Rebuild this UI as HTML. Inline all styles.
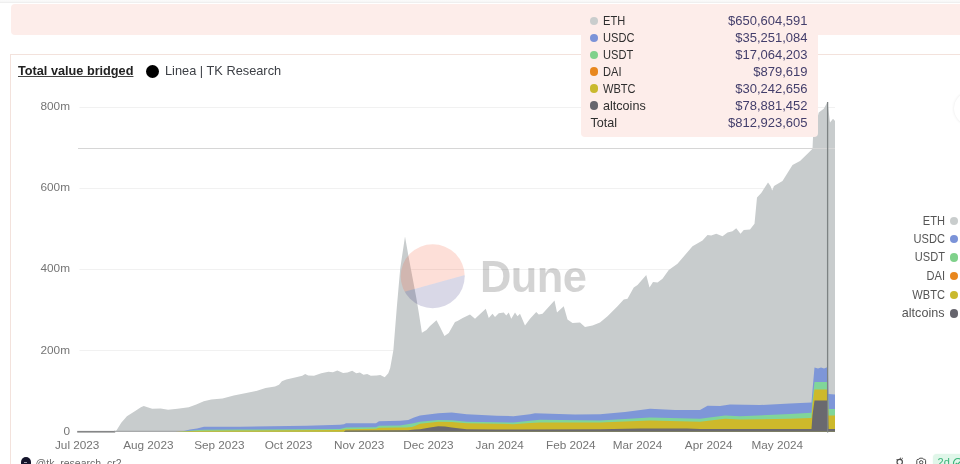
<!DOCTYPE html>
<html><head><meta charset="utf-8"><title>Total value bridged</title>
<style>
html,body{margin:0;padding:0;background:#fff;}
body{width:960px;height:464px;overflow:hidden;position:relative;font-family:"Liberation Sans",sans-serif;}
div{position:absolute;white-space:nowrap;}
.topline{left:0;top:0;width:960px;height:3.2px;background:linear-gradient(#fbfbfb,#f6f6f6 60%,#eaeaea);}
.banner{left:10.9px;top:3.6px;width:960px;height:31.6px;background:#fdedea;border-radius:4px 0 0 4px;}
.card{left:10px;top:54px;width:970px;height:430px;border:1px solid #f3e2dc;border-radius:0;box-sizing:border-box;}
.title{left:17.5px;top:63.2px;font-size:13.4px;font-weight:bold;color:#222;text-decoration:underline;text-decoration-thickness:1.3px;text-underline-offset:1px;text-decoration-color:#444;line-height:16px;transform:scaleX(.948);transform-origin:0 50%;}
.tdot{left:145.9px;top:64.7px;width:13.1px;height:13.1px;border-radius:50%;background:#000;}
.sub{left:164.8px;top:63.2px;font-size:13.3px;color:#3d4046;line-height:16px;transform:scaleX(.962);transform-origin:0 50%;}
.yl{left:20px;width:50px;text-align:right;font-size:11.8px;color:#757575;line-height:16px;}
.xl{width:80px;text-align:center;top:437px;font-size:11.75px;color:#757575;line-height:16px;}
.lg{left:844.5px;width:100px;text-align:right;font-size:12.6px;color:#555;line-height:16px;}
.nar{transform:scaleX(.88);transform-origin:100% 50%;}
.nal{transform:scaleX(.88);transform-origin:0 50%;}
.dot{width:8.4px;height:8.4px;border-radius:50%;}
.tip{left:580.8px;top:6px;width:237px;height:131px;background:#fdedea;border-radius:4px;}
.tl{left:603px;font-size:12.6px;color:#2e2e2e;line-height:16px;}
.tv{left:657.5px;width:150px;text-align:right;font-size:13px;color:#433e6b;line-height:16px;}
.ava{left:20.6px;top:457px;width:10.6px;height:10.6px;border-radius:50%;background:#14142b;}
.user{left:35.6px;top:454.7px;font-size:10.5px;color:#6a6a6a;line-height:16px;}
.badge{left:933px;top:454px;width:40px;height:20px;background:#e0f6e9;border-radius:4px;box-shadow:0 0 1.5px #e0f6e9;}
.badge span{position:absolute;left:4.6px;top:1.2px;font-size:11px;color:#3bb47a;line-height:14px;}
</style></head><body>
<div class="topline"></div>
<div class="banner"></div>
<div class="card"></div>
<div class="title">Total value bridged</div>
<div class="tdot"></div>
<div class="sub">Linea | TK Research</div>
<svg width="960" height="464" viewBox="0 0 960 464" style="position:absolute;left:0;top:0">
<line x1="79.5" x2="835" y1="107.5" y2="107.5" stroke="#f1f1f1" stroke-width="1"/>
<line x1="79.5" x2="835" y1="188.5" y2="188.5" stroke="#f1f1f1" stroke-width="1"/>
<line x1="79.5" x2="835" y1="269.5" y2="269.5" stroke="#f1f1f1" stroke-width="1"/>
<line x1="79.5" x2="835" y1="350.5" y2="350.5" stroke="#f1f1f1" stroke-width="1"/>

<rect x="77.2" y="430.9" width="38" height="1.7" fill="#858687"/>
<path d="M115.30,430.90 L115.30,431.70 L116.60,430.30 L121.25,422.80 L126.90,416.25 L134.40,411.60 L140.90,407.25 L143.75,405.90 L147.50,407.25 L152.20,408.75 L160.60,408.40 L168.10,409.70 L177.50,408.75 L188.75,407.25 L196.25,404.60 L203.75,401.25 L211.25,399.40 L222.50,398.40 L233.75,395.60 L245.00,393.20 L256.25,390.90 L265.60,388.10 L275.00,386.60 L279.00,384.80 L281.90,381.25 L286.25,379.50 L295.00,377.60 L302.30,375.85 L305.20,374.00 L308.10,375.40 L314.00,375.70 L321.25,373.20 L328.50,371.80 L332.90,372.20 L337.30,370.60 L343.10,372.90 L347.50,372.50 L352.20,370.75 L356.25,373.20 L359.90,372.50 L363.50,374.70 L367.20,374.00 L370.80,375.85 L376.70,375.40 L380.30,375.00 L384.70,377.30 L388.30,373.20 L390.20,368.10 L392.00,357.90 L393.40,350.00 L396.80,307.50 L400.20,268.80 L405.00,236.50 L408.40,255.80 L412.30,276.50 L416.20,297.20 L418.80,312.70 L421.90,332.80 L426.50,330.00 L430.00,326.00 L436.50,320.30 L440.00,327.00 L444.50,336.00 L448.75,333.00 L455.00,322.00 L457.50,321.00 L462.70,318.00 L470.00,314.50 L475.00,318.75 L485.75,308.75 L488.75,318.00 L492.50,313.75 L495.00,317.00 L498.75,313.25 L503.75,312.50 L506.25,315.50 L508.75,312.50 L511.25,318.75 L515.00,312.50 L517.50,316.25 L520.00,313.75 L525.00,325.50 L530.00,318.75 L536.25,312.00 L538.75,314.50 L542.50,313.75 L554.50,300.50 L557.00,312.50 L563.75,306.25 L567.50,319.50 L572.50,323.00 L580.00,322.50 L585.00,327.00 L592.50,325.50 L600.00,322.50 L607.50,316.25 L617.50,306.25 L623.75,299.50 L627.50,298.75 L633.75,287.50 L637.50,285.00 L646.25,275.00 L649.50,287.50 L653.00,282.00 L657.50,282.50 L662.50,278.75 L668.75,270.00 L677.50,263.75 L692.50,246.25 L702.50,240.50 L707.50,235.00 L711.25,235.50 L716.25,233.75 L722.50,236.25 L727.50,232.50 L732.50,231.25 L736.25,228.25 L740.50,233.75 L743.75,230.00 L750.00,229.50 L754.50,223.75 L757.00,197.50 L761.25,193.00 L768.00,182.50 L770.50,186.00 L772.20,190.50 L774.00,186.00 L782.50,181.00 L792.50,165.00 L800.00,161.00 L807.50,153.75 L812.50,148.75 L813.00,137.50 L818.75,112.50 L823.75,108.75 L827.50,102.00 L830.00,122.50 L833.00,118.75 L835.00,121.00 L835.00,430.90 Z" fill="#c8cccd"/>
<rect x="114" y="430.8" width="721" height="1" fill="#939697"/>
<path d="M183.00,431.70 L183.00,431.20 L190.00,429.60 L197.00,428.40 L204.00,426.80 L240.00,426.70 L306.70,425.80 L340.00,424.70 L344.00,424.20 L346.00,423.30 L376.00,423.30 L379.00,421.30 L400.00,420.80 L408.30,420.00 L414.00,417.50 L420.00,415.50 L438.30,413.30 L451.70,412.50 L466.70,414.20 L496.70,415.80 L513.30,416.20 L530.00,414.30 L535.00,413.25 L575.00,414.40 L600.00,414.30 L625.00,412.00 L650.00,408.75 L675.00,410.00 L700.00,410.00 L707.50,405.75 L720.00,406.00 L730.00,404.50 L760.00,405.00 L790.00,403.50 L811.50,402.50 L812.50,390.00 L814.50,367.50 L818.00,368.50 L821.00,367.50 L824.00,368.50 L827.80,367.00 L828.50,394.00 L835.00,394.50 L835.00,431.70 Z" fill="#7e96d8"/>
<path d="M180.00,431.70 L180.00,431.60 L195.00,430.20 L204.00,429.80 L240.00,429.50 L340.00,428.90 L346.00,427.50 L376.00,427.30 L379.00,425.80 L400.00,425.50 L406.00,424.50 L412.00,423.50 L420.00,421.70 L438.30,420.00 L451.70,420.30 L466.70,421.70 L496.70,422.20 L513.30,422.50 L530.00,420.80 L540.00,419.80 L600.00,420.40 L650.00,417.50 L700.00,418.75 L725.00,415.50 L740.00,416.25 L790.00,414.00 L811.50,412.80 L812.50,400.00 L814.50,382.00 L827.80,382.00 L828.50,409.00 L835.00,409.00 L835.00,431.70 Z" fill="#80d59a"/>
<path d="M175.00,431.70 L175.00,431.70 L190.00,431.10 L204.00,430.80 L240.00,430.50 L340.00,430.00 L346.00,429.20 L376.00,428.80 L379.00,427.80 L400.00,427.60 L406.00,427.40 L412.00,427.00 L416.00,425.50 L420.00,423.80 L438.30,421.70 L451.70,422.00 L466.70,423.30 L496.70,423.80 L513.30,424.20 L530.00,423.00 L540.00,422.50 L600.00,422.60 L650.00,420.50 L700.00,421.75 L725.00,418.75 L740.00,419.50 L790.00,418.80 L811.50,418.00 L812.50,405.00 L814.50,389.50 L827.80,389.50 L828.50,415.60 L835.00,415.60 L835.00,431.70 Z" fill="#cdb92b"/>
<path d="M344.00,431.70 L344.00,431.50 L345.50,430.50 L408.00,430.30 L415.00,429.60 L420.00,429.20 L430.00,427.60 L438.30,426.30 L445.00,426.60 L451.70,427.50 L460.00,428.60 L466.70,429.20 L496.70,429.60 L520.00,429.40 L600.00,429.20 L640.00,428.60 L687.00,428.60 L700.00,429.10 L811.50,429.00 L812.50,415.00 L814.50,400.60 L827.80,400.60 L828.50,429.00 L835.00,429.00 L835.00,431.70 Z" fill="#6a696f"/>

<line x1="78" x2="835" y1="148.5" y2="148.5" stroke="#d6d6d6" stroke-width="1"/>
<line x1="827.6" x2="827.6" y1="102" y2="432.5" stroke="#7d8283" stroke-width="1.3"/>
<clipPath id="cc"><circle cx="432.7" cy="276.2" r="32"/></clipPath>
<path d="M380,298.6 L480,270.8 L480,230 L380,230 Z" fill="#f4603e" opacity="0.2" clip-path="url(#cc)"/>
<path d="M380,298.6 L480,270.8 L480,330 L380,330 Z" fill="#1e1870" opacity="0.17" clip-path="url(#cc)"/>
<text x="480" y="292.1" font-family="Liberation Sans, sans-serif" font-weight="bold" font-size="43.5" letter-spacing="-0.6" fill="#000" opacity="0.17">Dune</text>
</svg>
<div class="yl" style="top:97.5px">800m</div>
<div class="yl" style="top:178.8px">600m</div>
<div class="yl" style="top:260.1px">400m</div>
<div class="yl" style="top:341.5px">200m</div>
<div class="yl" style="top:423.2px">0</div>

<div class="xl" style="left:37.2px">Jul 2023</div>
<div class="xl" style="left:108.30000000000001px">Aug 2023</div>
<div class="xl" style="left:179.3px">Sep 2023</div>
<div class="xl" style="left:248.5px">Oct 2023</div>
<div class="xl" style="left:319.2px">Nov 2023</div>
<div class="xl" style="left:388.5px">Dec 2023</div>
<div class="xl" style="left:459.7px">Jan 2024</div>
<div class="xl" style="left:530.8px">Feb 2024</div>
<div class="xl" style="left:597.5px">Mar 2024</div>
<div class="xl" style="left:668.7px">Apr 2024</div>
<div class="xl" style="left:737.3px">May 2024</div>

<div class="lg nar" style="top:212.5px">ETH</div><div class="dot" style="left:949.5px;top:216.5px;background:#c9cdcd"></div>
<div class="lg nar" style="top:230.8px">USDC</div><div class="dot" style="left:949.5px;top:234.8px;background:#7b93d8"></div>
<div class="lg nar" style="top:249.39999999999998px">USDT</div><div class="dot" style="left:949.5px;top:253.39999999999998px;background:#7fd18b"></div>
<div class="lg nar" style="top:268px">DAI</div><div class="dot" style="left:949.5px;top:272px;background:#e8871e"></div>
<div class="lg nar" style="top:286.5px">WBTC</div><div class="dot" style="left:949.5px;top:290.5px;background:#c9b92e"></div>
<div class="lg" style="top:305.3px">altcoins</div><div class="dot" style="left:949.5px;top:309.3px;background:#66656d"></div>

<div class="tip"></div>
<div class="dot" style="left:590px;top:16.7px;background:#c9cdcd"></div><div class="tl nal" style="top:12.9px">ETH</div><div class="tv" style="top:12.9px">$650,604,591</div>
<div class="dot" style="left:590px;top:33.6px;background:#7b93d8"></div><div class="tl nal" style="top:29.800000000000004px">USDC</div><div class="tv" style="top:29.800000000000004px">$35,251,084</div>
<div class="dot" style="left:590px;top:50.6px;background:#7fd18b"></div><div class="tl nal" style="top:46.800000000000004px">USDT</div><div class="tv" style="top:46.800000000000004px">$17,064,203</div>
<div class="dot" style="left:590px;top:67.4px;background:#e8871e"></div><div class="tl nal" style="top:63.6px">DAI</div><div class="tv" style="top:63.6px">$879,619</div>
<div class="dot" style="left:590px;top:84.4px;background:#c9b92e"></div><div class="tl nal" style="top:80.6px">WBTC</div><div class="tv" style="top:80.6px">$30,242,656</div>
<div class="dot" style="left:590px;top:101.4px;background:#66656d"></div><div class="tl" style="top:97.6px">altcoins</div><div class="tv" style="top:97.6px">$78,881,452</div>
<div class="tl" style="left:590.5px;top:114.89999999999999px">Total</div><div class="tv" style="top:114.89999999999999px">$812,923,605</div>

<div style="left:953.5px;top:92px;width:33px;height:33px;border-radius:50%;background:#fff;box-shadow:0 0 3px rgba(0,0,0,.10)"></div>
<div class="ava"></div><div style="left:23.6px;top:462.2px;width:3px;height:1.2px;background:#9a9aa8"></div>
<div class="user">@tk_research_cr2</div>
<div class="badge"><span>2d</span></div>
<svg width="40" height="12" viewBox="0 0 40 12" style="position:absolute;left:894px;top:456px" fill="none" stroke="#4a4a4a" stroke-width="1">
<circle cx="5.7" cy="6" r="2.7" stroke-width="1.15"/><path d="M7.2,3.6 L8.8,2 M3.5,4 L2.6,3 M6,3.3 L6.6,1.6"/>
<path d="M22.8,10 L22.8,4.6 Q22.8,3.3 24.1,3.3 L24.9,3.3 L25.7,2.2 L28.7,2.2 L29.5,3.3 L30.3,3.3 Q31.6,3.3 31.6,4.6 L31.6,10"/><circle cx="27.2" cy="6.3" r="1.7"/>
</svg>
<svg width="12" height="12" viewBox="0 0 12 12" style="position:absolute;left:952.3px;top:457px" fill="none" stroke="#3bb47a" stroke-width="1.2"><circle cx="6" cy="6" r="4.5"/><path d="M3.8,6 L5.4,7.6 L8.2,4.6"/></svg>
</body></html>
